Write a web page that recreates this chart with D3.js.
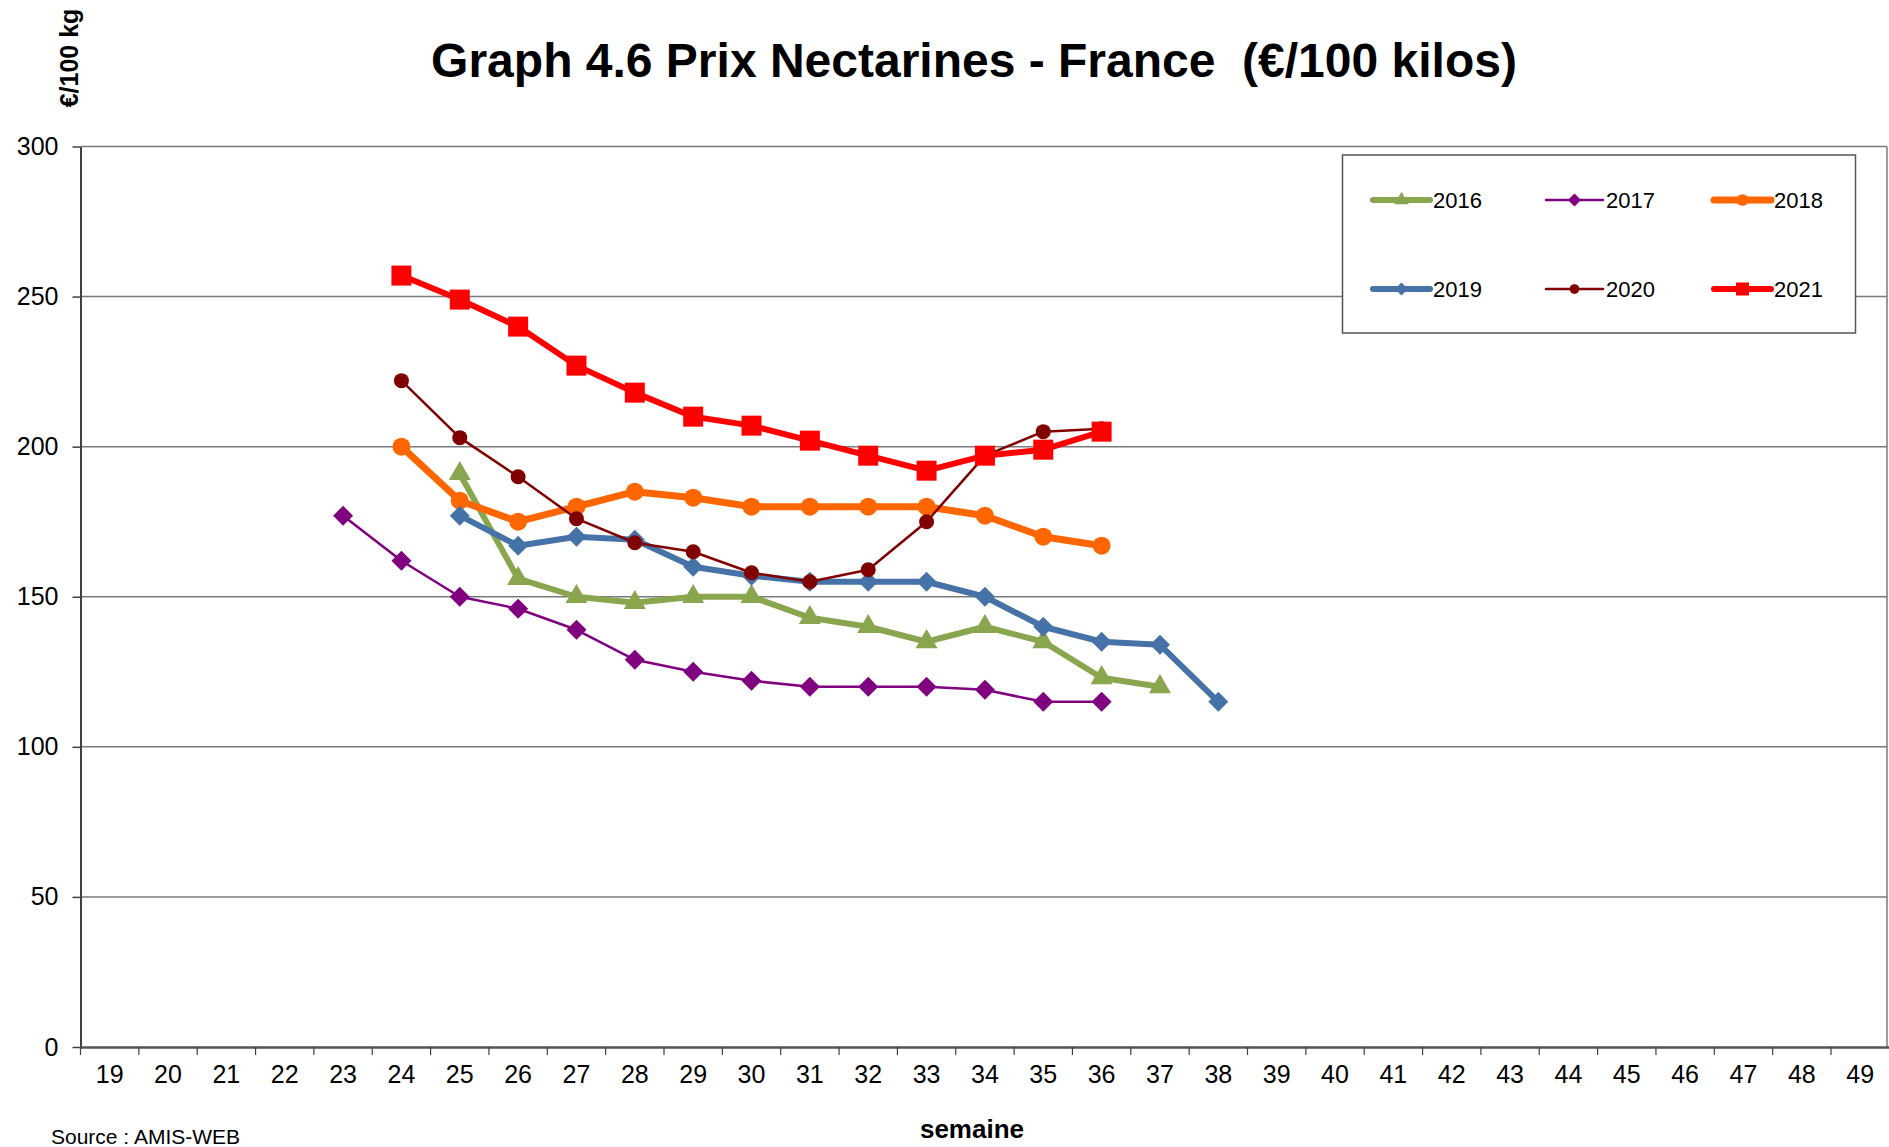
<!DOCTYPE html>
<html>
<head>
<meta charset="utf-8">
<script src="https://cdnjs.cloudflare.com/ajax/libs/d3/7.8.5/d3.min.js"></script>
<style>
  body { margin: 0; background: #fff; }
  text { font-family: Arial, "Liberation Sans", sans-serif; }
</style>
</head>
<body>
<svg id="chart"></svg>
<script>
var weeks = [19, 20, 21, 22, 23, 24, 25, 26, 27, 28, 29, 30, 31, 32, 33, 34, 35, 36, 37, 38, 39, 40, 41, 42, 43, 44, 45, 46, 47, 48, 49];
var yTicks = [0, 50, 100, 150, 200, 250, 300];

var weeks2016 = [25, 26, 27, 28, 29, 30, 31, 32, 33, 34, 35, 36, 37];
var prix2016 = [191, 156, 150, 148, 150, 150, 143, 140, 135, 140, 135, 123, 120];
var weeks2017 = [23, 24, 25, 26, 27, 28, 29, 30, 31, 32, 33, 34, 35, 36];
var prix2017 = [177, 162, 150, 146, 139, 129, 125, 122, 120, 120, 120, 119, 115, 115];
var weeks2018 = [24, 25, 26, 27, 28, 29, 30, 31, 32, 33, 34, 35, 36];
var prix2018 = [200, 182, 175, 180, 185, 183, 180, 180, 180, 180, 177, 170, 167];
var weeks2019 = [25, 26, 27, 28, 29, 30, 31, 32, 33, 34, 35, 36, 37, 38];
var prix2019 = [177, 167, 170, 169, 160, 157, 155, 155, 155, 150, 140, 135, 134, 115];
var weeks2020 = [24, 25, 26, 27, 28, 29, 30, 31, 32, 33, 34, 35, 36];
var prix2020 = [222, 203, 190, 176, 168, 165, 158, 155, 159, 175, 197, 205, 206];
var weeks2021 = [24, 25, 26, 27, 28, 29, 30, 31, 32, 33, 34, 35, 36];
var prix2021 = [257, 249, 240, 227, 218, 210, 207, 202, 197, 192, 197, 199, 205];

var series = [
  {name: "2016", weeks: weeks2016, values: prix2016, color: "#89A54E", width: 6, symbol: "triangle", size: 22},
  {name: "2017", weeks: weeks2017, values: prix2017, color: "#800080", width: 2.5, symbol: "diamond", size: 20},
  {name: "2018", weeks: weeks2018, values: prix2018, color: "#FF6600", width: 7, symbol: "circle", size: 18},
  {name: "2019", weeks: weeks2019, values: prix2019, color: "#4572A7", width: 6, symbol: "diamond", size: 20},
  {name: "2020", weeks: weeks2020, values: prix2020, color: "#800000", width: 2.5, symbol: "circle", size: 15},
  {name: "2021", weeks: weeks2021, values: prix2021, color: "#FF0000", width: 6, symbol: "square", size: 20}
];

var W = 1889, H = 1147;
var margin = {top: 146.5, right: 2, bottom: 100, left: 80.5};

var svg = d3.select("#chart").attr("width", W).attr("height", H);

var x = d3.scaleBand().domain(weeks).range([margin.left, margin.left + 31 * 58.35]);
var y = d3.scaleLinear().domain([0, 300]).range([1047, margin.top]);

function cx(w) { return x(w) + x.bandwidth() / 2; }

// gridlines
svg.append("g").selectAll("line")
  .data(yTicks.filter(function(d) { return d > 0; }))
  .enter().append("line")
  .attr("x1", margin.left).attr("x2", 1887)
  .attr("y1", function(d) { return y(d); }).attr("y2", function(d) { return y(d); })
  .attr("stroke", "#7a7a7a").attr("stroke-width", 1.5);

// right border
svg.append("line")
  .attr("x1", 1887).attr("x2", 1887).attr("y1", y(300)).attr("y2", y(0))
  .attr("stroke", "#7a7a7a").attr("stroke-width", 1.5);

// y axis
var yAxis = d3.axisLeft(y).tickValues(yTicks).tickSize(8).tickSizeOuter(0).tickPadding(14);
var gy = svg.append("g").attr("transform", "translate(" + margin.left + ",0)").call(yAxis);
gy.select(".domain").attr("stroke", "#404040").attr("stroke-width", 2);
gy.selectAll(".tick line").attr("stroke", "#404040").attr("stroke-width", 1.5);
gy.selectAll(".tick text").attr("font-size", 25).attr("fill", "#000")
  .style("font-family", "Arial, 'Liberation Sans', sans-serif");

// x axis
var xAxis = d3.axisBottom(x).tickSize(0).tickPadding(18);
var gx = svg.append("g").attr("transform", "translate(0," + y(0) + ")").call(xAxis);
gx.select(".domain").attr("stroke", "#555").attr("stroke-width", 2.5);
gx.selectAll(".tick text").attr("font-size", 25).attr("fill", "#000")
  .style("font-family", "Arial, 'Liberation Sans', sans-serif");
svg.append("g").selectAll("line")
  .data(weeks)
  .enter().append("line")
  .attr("x1", function(d) { return x(d); }).attr("x2", function(d) { return x(d); })
  .attr("y1", y(0)).attr("y2", y(0) + 8)
  .attr("stroke", "#404040").attr("stroke-width", 1.2);

function symbolPath(type, size) {
  if (type === "circle") return d3.symbol(d3.symbolCircle, Math.PI * size * size / 4)();
  if (type === "square") return d3.symbol(d3.symbolSquare, size * size)();
  if (type === "triangle") return d3.symbol(d3.symbolTriangle, size * size * 0.433)();
  // diamond: rotated square with diagonal = size
  return d3.symbol(d3.symbolSquare, size * size / 2)();
}

var line = d3.line()
  .x(function(d) { return cx(d[0]); })
  .y(function(d) { return y(d[1]); });

series.forEach(function(s) {
  var pts = s.weeks.map(function(w, i) { return [w, s.values[i]]; });
  var g = svg.append("g");
  g.append("path")
    .datum(pts)
    .attr("d", line)
    .attr("fill", "none")
    .attr("stroke", s.color)
    .attr("stroke-width", s.width)
    .attr("stroke-linejoin", "round");
  g.selectAll("path.mk")
    .data(pts)
    .enter().append("path")
    .attr("class", "mk")
    .attr("d", symbolPath(s.symbol, s.size))
    .attr("transform", function(d) {
      return "translate(" + cx(d[0]) + "," + y(d[1]) + ")" + (s.symbol === "diamond" ? " rotate(45)" : "");
    })
    .attr("fill", s.color);
});

// legend
var legend = svg.append("g");
legend.append("rect")
  .attr("x", 1342.5).attr("y", 155).attr("width", 513).attr("height", 178)
  .attr("fill", "#fff").attr("stroke", "#555").attr("stroke-width", 1.5);
var colX = [1373, 1546, 1714];
var rowY = [200, 289];
series.forEach(function(s, i) {
  var lx = colX[i % 3], ly = rowY[Math.floor(i / 3)];
  var len = 57;
  legend.append("line")
    .attr("x1", lx).attr("x2", lx + len).attr("y1", ly).attr("y2", ly)
    .attr("stroke", s.color).attr("stroke-width", s.width).attr("stroke-linecap", "round");
  legend.append("path")
    .attr("d", symbolPath(s.symbol, s.size * 0.65))
    .attr("transform", "translate(" + (lx + len / 2) + "," + ly + ")" + (s.symbol === "diamond" ? " rotate(45)" : ""))
    .attr("fill", s.color);
  legend.append("text")
    .attr("x", lx + len + 3).attr("y", ly + 8)
    .attr("font-size", 22)
    .text(s.name);
});

// titles
svg.append("text")
  .attr("x", 974).attr("y", 77)
  .attr("text-anchor", "middle")
  .attr("font-size", 48).attr("font-weight", "bold")
  .style("white-space", "pre")
  .text("Graph 4.6 Prix Nectarines - France  (€/100 kilos)");

svg.append("text")
  .attr("transform", "translate(78,58) rotate(-90)")
  .attr("text-anchor", "middle")
  .attr("font-size", 25).attr("font-weight", "bold")
  .text("€/100 kg");

svg.append("text")
  .attr("x", 972).attr("y", 1138)
  .attr("text-anchor", "middle")
  .attr("font-size", 26).attr("font-weight", "bold")
  .text("semaine");

svg.append("text")
  .attr("x", 51).attr("y", 1144)
  .attr("font-size", 21)
  .text("Source : AMIS-WEB");
</script>
</body>
</html>
